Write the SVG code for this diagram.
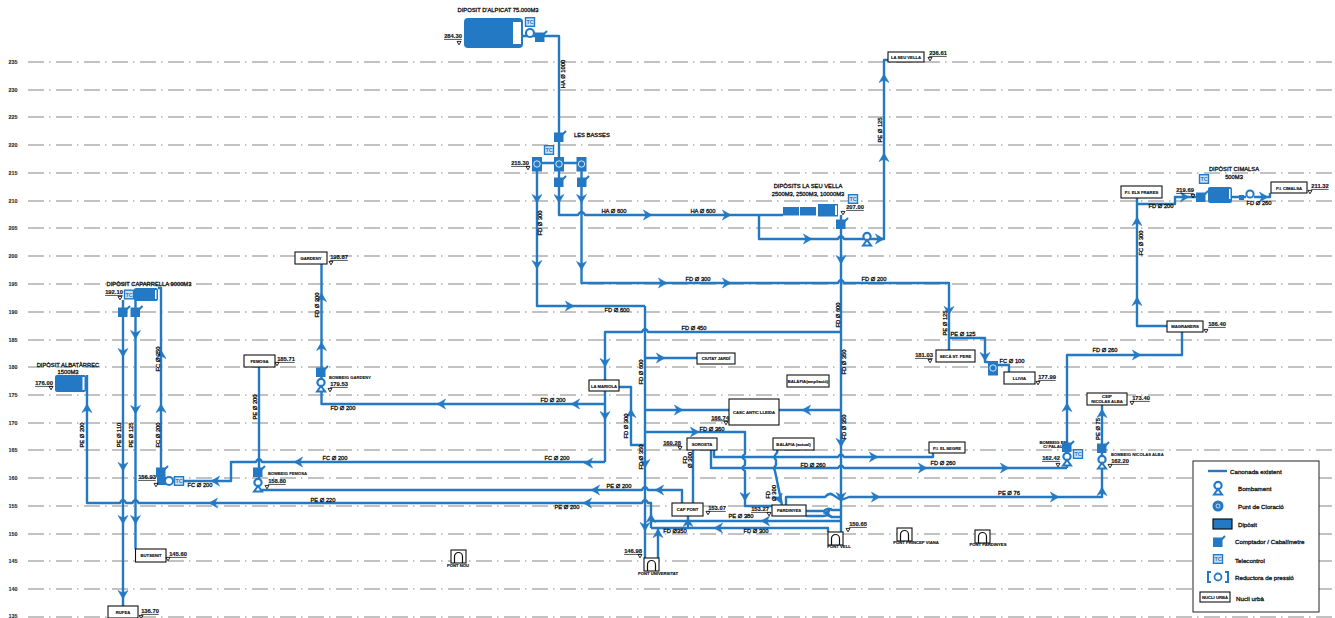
<svg xmlns="http://www.w3.org/2000/svg" width="1335" height="618" viewBox="0 0 1335 618">
<style>
text{font-family:"Liberation Sans",Arial,sans-serif;fill:#111;font-size:5.8px;stroke:#111;stroke-width:.3px}
.c{text-anchor:middle}
.s{font-size:4.2px;text-anchor:middle;font-weight:bold;stroke-width:.15px}
.u{text-decoration:underline;text-anchor:middle;font-weight:bold;stroke-width:.15px}
.g{font-size:5.4px;text-anchor:middle;font-weight:bold;fill:#333;stroke-width:.1px}
.grid line{stroke:#858585;stroke-width:1.1;stroke-dasharray:16 5 1.5 5.5}
.pipe{fill:none;stroke:#2479c4;stroke-width:2.4;stroke-linejoin:round}
.box{fill:#fff;stroke:#111;stroke-width:1.1}
.bl{fill:#2479c4}
.lg{font-size:6.2px;stroke-width:.3px}
</style>
<defs>
<path id="ar" d="M-4.6 -5 L4 0 L-4.6 5 L-2 0 Z" fill="#2479c4" stroke="#2479c4" stroke-width=".5"/>
<path id="tri" d="M-2 -1.6 H2 L0 1.8 Z" fill="none" stroke="#111" stroke-width=".9"/>
<g id="m"><rect x="-5" y="-4.5" width="9.500" height="9.500" fill="#2479c4"/><path d="M0 1 L7 -6" stroke="#2479c4" stroke-width="2"/></g>
<g id="p"><circle cx="0" cy="-2.5" r="3.6" fill="#fff" stroke="#2479c4" stroke-width="2.2"/><path d="M-4 6.500 L0 1 L4 6.500 Z" fill="#fff" stroke="#2479c4" stroke-width="2"/></g>
<g id="cl"><rect x="-5" y="-7" width="10" height="14.500" fill="#2479c4"/><circle r="3.2" fill="none" stroke="#fff" stroke-width=".8"/></g>
<g id="tc"><rect x="-5.2" y="-5" width="10.4" height="10" fill="#2479c4"/><rect x="-3.8" y="-3.6" width="7.6" height="7.2" fill="#cfe2f5"/><text x="0" y="2" text-anchor="middle" style="font-size:5.4px;font-weight:bold;fill:#2479c4;stroke:none">TC</text></g>
<g id="port"><rect x="0" y="0" width="15" height="13" fill="#fff" stroke="#111" stroke-width="1.1"/><path d="M3.5 13 V6.5 A4 4 0 0 1 11.5 6.5 V13" fill="none" stroke="#111" stroke-width="1.2"/></g>
</defs>

<g id="grid" class="grid">
<line x1="28" y1="62" x2="1335" y2="62"/><line x1="28" y1="90" x2="1335" y2="90"/><line x1="28" y1="117" x2="1335" y2="117"/><line x1="28" y1="145" x2="1335" y2="145"/><line x1="28" y1="173" x2="1335" y2="173"/><line x1="28" y1="201" x2="1335" y2="201"/><line x1="28" y1="228" x2="1335" y2="228"/><line x1="28" y1="256" x2="1335" y2="256"/><line x1="28" y1="284" x2="1335" y2="284"/><line x1="28" y1="312" x2="1335" y2="312"/><line x1="28" y1="340" x2="1335" y2="340"/><line x1="28" y1="367" x2="1335" y2="367"/><line x1="28" y1="395" x2="1335" y2="395"/><line x1="28" y1="423" x2="1335" y2="423"/><line x1="28" y1="450" x2="1335" y2="450"/><line x1="28" y1="478" x2="1335" y2="478"/><line x1="28" y1="506" x2="1335" y2="506"/><line x1="28" y1="534" x2="1335" y2="534"/><line x1="28" y1="561" x2="1335" y2="561"/><line x1="28" y1="589" x2="1335" y2="589"/><line x1="28" y1="617" x2="1335" y2="617"/>
<text class="g" x="13" y="64">235</text><text class="g" x="13" y="92">230</text><text class="g" x="13" y="119">225</text><text class="g" x="13" y="147">220</text><text class="g" x="13" y="175">215</text><text class="g" x="13" y="203">210</text><text class="g" x="13" y="230">205</text><text class="g" x="13" y="258">200</text><text class="g" x="13" y="286">195</text><text class="g" x="13" y="314">190</text><text class="g" x="13" y="342">185</text><text class="g" x="13" y="369">180</text><text class="g" x="13" y="397">175</text><text class="g" x="13" y="425">170</text><text class="g" x="13" y="452">165</text><text class="g" x="13" y="480">160</text><text class="g" x="13" y="508">155</text><text class="g" x="13" y="536">150</text><text class="g" x="13" y="563">145</text><text class="g" x="13" y="591">140</text><text class="g" x="13" y="618">135</text>
</g>

<g id="connectors">
<path class="pipe" d="M522 36 H559 V136 M559 141 V163 M537 163 H581 M559 171 V215 H578 q3.5 -6 7 0 H783"/>
<path class="pipe" d="M581.5 171 V283 H838 q3 -6 6 0 H949 V350"/>
<path class="pipe" d="M537 171 V306 H645 M645 306 V558"/>
<path class="pipe" d="M841 332 H648 q-3 -6 -6 0 H605 V380 M605 391 V462 M605 462 H262 q-3 -6 -6 0 H231 V481 H184"/>
<path class="pipe" d="M605 404 H321.5 V264 M619 387 H631 V445 H645"/>
<path class="pipe" d="M645 358 H697 M645 410 H729 M645 432 H745 V454 q-5 3 0 6 V465 q-5 3 0 6 V506 H772"/>
<path class="pipe" d="M711 450 V468 H838 q3 -5 6 0 H1067 M714 450 V457 H838 q3 -5 6 0 H933 V453"/>
<path class="pipe" d="M777 450 q1 2 -1 4 q-3 3 0 6 V465 q-3 3 -1 6 L782 505"/>
<path class="pipe" d="M841 215 V532 M759 214 V239 H838 q3 -6 6 0 H884 V60 H888 M841 410 H779"/>
<path class="pipe" d="M786 505 V497 H825 q4 -5 8 -2 l8 5 l8 -3 H1102 V405"/>
<path class="pipe" d="M806 511 H824 q4 -4 8 -1 H841 M806 516 H824 q4 -2 8 1 H841 M651 521 H841 M828 532 V528 H651"/>
<path class="pipe" d="M87 375 V503 H120 q3 -6 6 0 H132.500 q3 -6 6 0 H642 q3 -6 6 0 H651 V528"/>
<path class="pipe" d="M688 515 V528 M658 558 V528 M682 503 V490 H648 q-3 -6 -6 0 H258 M693 450 V503"/>
<path class="pipe" d="M158 288 H161 V476 M123 300 V606 M135.500 300 V549 M259 367 V490"/>
<path class="pipe" d="M949 338 H985 V362 H988 M998 365 H1009 V372 M1067 468 V355 H1182 V332 M1167 326 H1137 V198 M1137 204 H1175 V197 H1198 M1232 197 H1246 M1254 197 H1270 V193"/>
<use href="#ar" transform="translate(559 199) rotate(90)"/><use href="#ar" transform="translate(581.500 199) rotate(90)"/><use href="#ar" transform="translate(581.500 266) rotate(90)"/><use href="#ar" transform="translate(537 199) rotate(90)"/><use href="#ar" transform="translate(537 265) rotate(90)"/>
<use href="#ar" transform="translate(648 215)"/><use href="#ar" transform="translate(727 215)"/><use href="#ar" transform="translate(663 283)"/><use href="#ar" transform="translate(727 283)"/><use href="#ar" transform="translate(570 306)"/>
<use href="#ar" transform="translate(605 363) rotate(90)"/><use href="#ar" transform="translate(605 416) rotate(90)"/><use href="#ar" transform="translate(588 463) rotate(180)"/><use href="#ar" transform="translate(575 404) rotate(180)"/><use href="#ar" transform="translate(441 404) rotate(180)"/>
<use href="#ar" transform="translate(321.500 346) rotate(-90)"/><use href="#ar" transform="translate(321.500 297) rotate(-90)"/><use href="#ar" transform="translate(631 413) rotate(-90)"/><use href="#ar" transform="translate(645 464) rotate(90)"/><use href="#ar" transform="translate(645 527) rotate(90)"/>
<use href="#ar" transform="translate(661 358)"/><use href="#ar" transform="translate(679 410)"/><use href="#ar" transform="translate(695 432)"/><use href="#ar" transform="translate(745 497) rotate(90)"/><use href="#ar" transform="translate(806 410) rotate(180)"/>
<use href="#ar" transform="translate(874 457)"/><use href="#ar" transform="translate(923 468)"/><use href="#ar" transform="translate(1005 468)"/><use href="#ar" transform="translate(876 497)"/><use href="#ar" transform="translate(1055 497)"/><use href="#ar" transform="translate(1102 491) rotate(-90)"/><use href="#ar" transform="translate(1102 413) rotate(-90)"/><use href="#ar" transform="translate(1067 407) rotate(-90)"/>
<use href="#ar" transform="translate(779 499) rotate(70)"/><use href="#ar" transform="translate(841 260) rotate(90)"/><use href="#ar" transform="translate(841 443) rotate(90)"/><use href="#ar" transform="translate(841 497) rotate(90)"/><use href="#ar" transform="translate(808 239)"/><use href="#ar" transform="translate(880 239)"/><use href="#ar" transform="translate(884 78) rotate(-90)"/><use href="#ar" transform="translate(884 157) rotate(-90)"/>
<use href="#ar" transform="translate(827 513) rotate(180)"/><use href="#ar" transform="translate(765 521) rotate(180)"/><use href="#ar" transform="translate(718 528) rotate(180)"/><use href="#ar" transform="translate(651 518) rotate(-90)"/><use href="#ar" transform="translate(658 533) rotate(-90)"/><use href="#ar" transform="translate(688 522) rotate(-90)"/>
<use href="#ar" transform="translate(659 490) rotate(180)"/><use href="#ar" transform="translate(595 490) rotate(180)"/><use href="#ar" transform="translate(587 503) rotate(180)"/><use href="#ar" transform="translate(213 503) rotate(180)"/><use href="#ar" transform="translate(298 462) rotate(180)"/><use href="#ar" transform="translate(215 481) rotate(180)"/>
<use href="#ar" transform="translate(87 408) rotate(-90)"/><use href="#ar" transform="translate(161 354) rotate(-90)"/><use href="#ar" transform="translate(161 408) rotate(-90)"/>
<use href="#ar" transform="translate(123 353) rotate(90)"/><use href="#ar" transform="translate(123 467) rotate(90)"/><use href="#ar" transform="translate(123 520) rotate(90)"/><use href="#ar" transform="translate(123 595) rotate(90)"/><use href="#ar" transform="translate(135.500 335) rotate(90)"/><use href="#ar" transform="translate(135.500 410) rotate(90)"/><use href="#ar" transform="translate(135.500 520) rotate(90)"/>
<use href="#ar" transform="translate(949 311) rotate(90)"/><use href="#ar" transform="translate(985 357) rotate(90)"/><use href="#ar" transform="translate(1137 355)"/><use href="#ar" transform="translate(1137 301) rotate(-90)"/><use href="#ar" transform="translate(1137 221) rotate(-90)"/><use href="#ar" transform="translate(1185 197)"/><use href="#ar" transform="translate(1264 197)"/>

<text class="c" x="614" y="213">HA Ø 600</text><text class="c" x="703" y="213">HA Ø 600</text><text class="c" x="698" y="281">FD Ø 300</text><text class="c" x="874" y="281">FD Ø 200</text><text class="c" x="617" y="312">FD Ø 600</text><text class="c" x="694" y="330">FD Ø 450</text><text class="c" x="553" y="402">FD Ø 200</text><text class="c" x="343" y="410">FD Ø 200</text><text class="c" x="712" y="431">FD Ø 360</text>
<text class="c" x="813" y="467">FD Ø 260</text><text class="c" x="943" y="465">FD Ø 260</text><text class="c" x="1009" y="495">PE Ø 76</text><text class="c" x="756" y="533">FD Ø 300</text><text class="c" x="675" y="533">FD Ø350</text><text class="c" x="741" y="518">PE Ø 380</text><text class="c" x="619" y="488">PE Ø 200</text><text class="c" x="567" y="509">PE Ø 200</text><text class="c" x="323" y="502">PE Ø 220</text><text class="c" x="335" y="460">FC Ø 200</text><text class="c" x="557" y="460">FC Ø 200</text><text class="c" x="200" y="487">FC Ø 200</text><text class="c" x="963" y="336">PE Ø 125</text><text class="c" x="1012" y="363">FC Ø 100</text><text class="c" x="1105" y="352">FD Ø 260</text><text class="c" x="1161" y="208">FD Ø 200</text><text class="c" x="1259" y="205">FD Ø 260</text>
<text class="c" transform="translate(565 74) rotate(-90)">HA Ø 1000</text><text class="c" transform="translate(542 223) rotate(-90)">FD Ø 300</text><text class="c" transform="translate(319 305) rotate(-90)">FD Ø 200</text><text class="c" transform="translate(628 426) rotate(-90)">FD Ø 300</text><text class="c" transform="translate(643 372) rotate(-90)">FD Ø 600</text><text class="c" transform="translate(643 457) rotate(-90)">FD Ø 350</text><text class="c" transform="translate(882 130) rotate(-90)">PE Ø 125</text><text class="c" transform="translate(840 315) rotate(-90)">FD Ø 600</text><text class="c" transform="translate(846 362) rotate(-90)">FD Ø 350</text><text class="c" transform="translate(846 427) rotate(-90)">FD Ø 350</text><text class="c" transform="translate(947 323) rotate(-90)">PE Ø 125</text><text class="c" transform="translate(1143 243) rotate(-90)">FC Ø 300</text><text class="c" transform="translate(1100 429) rotate(-90)">PE Ø 75</text><text class="c" transform="translate(160 359) rotate(-90)">FC Ø 250</text><text class="c" transform="translate(160 435) rotate(-90)">FC Ø 200</text><text class="c" transform="translate(84 435) rotate(-90)">PE Ø 200</text><text class="c" transform="translate(121 435) rotate(-90)">PE Ø 110</text><text class="c" transform="translate(133 435) rotate(-90)">PE Ø 125</text><text class="c" transform="translate(257 407) rotate(-90)">PE Ø 200</text>
<text class="c" transform="translate(687 460) rotate(-90)">FD</text><text class="c" transform="translate(692 460) rotate(-90)">Ø 300</text><text class="c" transform="translate(770 495) rotate(-90)">FD</text><text class="c" transform="translate(776 493) rotate(-90)">Ø 300</text>
</g>

<g id="dep-alpicat"><text class="c" x="498" y="12">DIPOSIT D'ALPICAT 75.000M3</text><rect class="bl" x="464" y="18" width="59" height="30" rx="4"/><rect x="513" y="22" width="8" height="22" fill="#fff"/><use href="#tc" x="530" y="22"/><circle cx="530" cy="33" r="4" fill="#fff" stroke="#2479c4" stroke-width="2.2"/><use href="#m" x="540" y="37"/><text class="u" x="453" y="38">284.30</text><use href="#tri" x="459" y="43"/></g>
<g id="les-basses"><use href="#m" x="559" y="137"/><use href="#tc" x="549" y="150"/><use href="#cl" x="537" y="164"/><use href="#cl" x="559" y="164"/><use href="#cl" x="581.500" y="164"/><use href="#m" x="559" y="182"/><use href="#m" x="582" y="182"/><text x="574" y="137">LES BASSES</text><text class="u" x="520" y="165">215.30</text><use href="#tri" x="528" y="168"/></g>
<g id="dep-seu-vella"><text class="c" x="808" y="188">DIPÒSITS LA SEU VELLA</text><text class="c" x="808" y="196">2500M3, 2500M3, 10000M3</text><rect class="bl" x="783" y="207" width="16" height="8.500"/><rect class="bl" x="800" y="207" width="16" height="8.500"/><rect class="bl" x="818" y="204" width="20" height="12.500"/><rect x="835" y="205.500" width="2" height="9.500" fill="#fff"/><use href="#tc" x="853" y="199"/><use href="#m" x="841" y="224"/><use href="#tri" x="843" y="213"/><text class="u" x="855" y="209">207.00</text></g>
<g id="bomb-seu-vella"><use href="#p" x="867" y="239"/></g>
<g id="la-seu-vella"><rect class="box" x="888" y="52" width="36" height="10"/><text class="s" x="906" y="58.500">LA SEU VELLA</text><text class="u" x="938" y="55">236.61</text><use href="#tri" x="930" y="59"/></g>
<g id="gardeny"><rect class="box" x="295" y="252" width="32" height="12"/><text class="s" x="311" y="259.500">GARDENY</text><text class="u" x="339" y="259">198.87</text><use href="#tri" x="331" y="263"/></g>
<g id="bomb-gardeny"><use href="#m" x="321" y="372"/><use href="#p" x="321" y="385"/><text x="329" y="379" style="font-size:4.2px;font-weight:bold;stroke-width:.1px">BOMBEIG GARDENY</text><text class="u" x="339" y="386">179.53</text><use href="#tri" x="330" y="390"/></g>
<g id="femosa"><rect class="box" x="244" y="355" width="31" height="12"/><text class="s" x="259.500" y="362.500">FEMOSA</text><text class="u" x="286" y="361">185.71</text><use href="#tri" x="277" y="364"/></g>
<g id="bomb-femosa"><use href="#m" x="258" y="472"/><use href="#p" x="258" y="485"/><text x="268" y="475" style="font-size:4.2px;font-weight:bold;stroke-width:.1px">BOMBEIG FEMOSA</text><text class="u" x="277" y="483">158.80</text><use href="#tri" x="267" y="487"/></g>
<g id="dep-caparrella"><text class="c" x="149" y="286">DIPÒSIT CAPARRELLA 9000M3</text><rect class="bl" x="134" y="288" width="24" height="13" rx="2"/><rect x="155" y="290" width="1.500" height="9" fill="#fff"/><use href="#tc" x="129" y="294.500"/><text class="u" x="114" y="294">192.10</text><use href="#tri" x="120" y="298"/><use href="#m" x="123" y="312"/><use href="#m" x="135.500" y="312"/></g>
<g id="dep-albatarrec"><text class="c" x="68" y="367">DIPÒSIT ALBATÀRREC</text><text class="c" x="68" y="373.500">1500M3</text><rect class="bl" x="55" y="375" width="31" height="17" rx="2"/><rect x="82.500" y="377" width="2" height="13" fill="#fff"/><text class="u" x="44" y="385">176.00</text><use href="#tri" x="51" y="388"/></g>
<g id="bomb-caparrella"><use href="#m" x="161" y="472"/><rect class="bl" x="157" y="477" width="11" height="8"/><circle cx="169" cy="481" r="4" fill="#fff" stroke="#2479c4" stroke-width="2"/><use href="#tc" x="179" y="481"/><text class="u" x="147" y="479">156.93</text><use href="#tri" x="156" y="485"/></g>
<g id="butsenit"><rect class="box" x="135.500" y="549" width="30.500" height="13"/><text class="s" x="151" y="557">BUTSENIT</text><text class="u" x="178" y="556">145.60</text><use href="#tri" x="168" y="559"/></g>
<g id="rufea"><rect class="box" x="108" y="606" width="30" height="12"/><text class="s" x="123" y="614">RUFEA</text><text class="u" x="150" y="613">136.70</text><use href="#tri" x="141" y="617"/></g>
<g id="pont-nou"><use href="#port" x="451" y="550"/><text class="s" x="458" y="567">PONT NOU</text></g>
<g id="la-mariola"><rect class="box" x="589" y="380" width="30" height="11"/><text class="s" x="604" y="387.500">LA MARIOLA</text></g>
<g id="ciutat-jardi"><rect class="box" x="697" y="353" width="38" height="11"/><text class="s" x="716" y="360">CIUTAT JARDÍ</text></g>
<g id="casc-antic"><rect class="box" x="729" y="399" width="50" height="26"/><text class="s" x="754" y="413.500">CASC ANTIC LLEIDA</text><text class="u" x="720" y="419.500">166.74</text><use href="#tri" x="726" y="423"/></g>
<g id="balafia-amp"><rect class="box" x="787" y="375" width="42" height="12"/><text class="s" x="808" y="382.500">BALÀFIA(ampliació)</text></g>
<g id="balafia"><rect class="box" x="773" y="438" width="41" height="12"/><text class="s" x="793.500" y="445.500">BALÀFIA (actual)</text></g>
<g id="soroeta"><rect class="box" x="687" y="438" width="30" height="12"/><text class="s" x="702" y="445.500">SOROETA</text><text class="u" x="672" y="444.500">160.28</text><use href="#tri" x="680" y="448"/></g>
<g id="cap-pont"><rect class="box" x="672" y="503" width="31" height="13"/><text class="s" x="687.500" y="511">CAP PONT</text><text class="u" x="717" y="510">153.07</text><use href="#tri" x="708" y="513"/></g>
<g id="pardinyes"><rect class="box" x="772" y="505" width="34" height="11"/><text class="s" x="789" y="512">PARDINYES</text><text class="u" x="760" y="511">153.27</text><use href="#tri" x="769" y="514"/></g>
<g id="pont-vell"><use href="#port" x="828" y="532"/><text class="s" x="839" y="548">PONT VELL</text><text class="u" x="858" y="526">150.65</text><use href="#tri" x="848" y="530"/></g>
<g id="pont-universitat"><use href="#port" x="644" y="558"/><text class="s" x="658" y="575">PONT UNIVERSITAT</text><text class="u" x="633" y="553">146.98</text><use href="#tri" x="640" y="556"/></g>
<g id="pont-princep"><use href="#port" x="897" y="528"/><text class="s" x="916" y="543.500">PONT PRINCEP VIANA</text></g>
<g id="pont-pardinyes"><use href="#port" x="975" y="530"/><text class="s" x="988" y="545.500">PONT PARDINYES</text></g>
<g id="pi-segre"><rect class="box" x="929" y="442" width="36" height="11"/><text class="s" x="947" y="449.500">P.I. EL SEGRE</text></g>
<g id="seca"><rect class="box" x="936" y="350" width="39" height="12"/><text class="s" x="955.500" y="357.500">SECÀ ST. PERE</text><text class="u" x="924" y="357">181.03</text><use href="#tri" x="930" y="361"/></g>
<g id="clor-seca"><use href="#cl" x="993" y="368"/></g>
<g id="llivia"><rect class="box" x="1004" y="372" width="31" height="12"/><text class="s" x="1019.500" y="379.500">LLIVIA</text><text class="u" x="1047" y="379">177.99</text><use href="#tri" x="1038" y="383"/></g>
<g id="bomb-palau"><text class="s" x="1053" y="444">BOMBEIG EN</text><text class="s" x="1053" y="448">C/ PALAU</text><use href="#m" x="1067" y="447"/><use href="#p" x="1067" y="459"/><use href="#tc" x="1078" y="454"/><text class="u" x="1051" y="460">162.42</text><use href="#tri" x="1058" y="465"/></g>
<g id="bomb-alba"><use href="#m" x="1102" y="448"/><use href="#p" x="1102" y="462"/><text x="1111" y="456" style="font-size:4.2px;font-weight:bold;stroke-width:.1px">BOMBEIG NICOLAS ALBA</text><text class="u" x="1120" y="463">162.20</text><use href="#tri" x="1110" y="466"/></g>
<g id="ceip-alba"><rect class="box" x="1087" y="393" width="40" height="12"/><text class="s" x="1107" y="398">CEIP</text><text class="s" x="1107" y="403">NICOLAS ALBA</text><text class="u" x="1141" y="400">173.40</text><use href="#tri" x="1132" y="403"/></g>
<g id="magraners"><rect class="box" x="1167" y="321" width="36" height="11"/><text class="s" x="1185" y="328">MAGRANERS</text><text class="u" x="1217" y="326">186.40</text><use href="#tri" x="1206" y="331"/></g>
<g id="pi-frares"><rect class="box" x="1121" y="186" width="41" height="12"/><text class="s" x="1141.500" y="193.500">P.I. ELS FRARES</text></g>
<g id="dep-cimalsa"><text class="c" x="1234" y="171">DIPÒSIT CIMALSA</text><text class="c" x="1234" y="179">500M3</text><rect class="bl" x="1208" y="187" width="24" height="16" rx="2"/><rect x="1229" y="189" width="1.500" height="10" fill="#fff"/><use href="#tc" x="1204" y="179"/><use href="#m" x="1201" y="197"/><rect class="bl" x="1239" y="195" width="5" height="5"/><circle cx="1250" cy="194" r="3.600" fill="#fff" stroke="#2479c4" stroke-width="2"/><text class="u" x="1185" y="192">219.69</text><use href="#tri" x="1193" y="196"/></g>
<g id="pi-cimalsa"><rect class="box" x="1271" y="182" width="36" height="11"/><text class="s" x="1289" y="189.500">P.I. CIMALSA</text><text class="u" x="1320" y="188">211.32</text><use href="#tri" x="1310" y="192"/></g>

<g id="legend">
<rect x="1193" y="461" width="126" height="151" fill="#fff" stroke="#222" stroke-width="1"/>
<path class="pipe" d="M1208 471 H1227"/>
<use href="#p" x="1218" y="488"/>
<circle cx="1218" cy="506" r="5.500" fill="#2479c4"/><circle cx="1218" cy="506" r="2" fill="none" stroke="#fff" stroke-width=".7"/>
<rect x="1213" y="519" width="19" height="10" fill="#2479c4" stroke="#111" stroke-width="1.200"/>
<use href="#m" x="1218" y="542"/>
<use href="#tc" x="1218" y="559"/>
<path d="M1211 572 H1208 V582 H1211 M1225 572 H1228 V582 H1225" fill="none" stroke="#2479c4" stroke-width="2"/><circle cx="1218" cy="577" r="3.500" fill="none" stroke="#2479c4" stroke-width="1.800"/>
<rect x="1200" y="592" width="30" height="10" class="box"/><text class="s" x="1215" y="599">NUCLI URBÀ</text>
<text class="lg" x="1230" y="474">Canonada existent</text><text class="lg" x="1238" y="491">Bombament</text><text class="lg" x="1238" y="509">Punt de Cloració</text><text class="lg" x="1238" y="527">Dipòsit</text><text class="lg" x="1235" y="544">Comptador / Cabalímetre</text><text class="lg" x="1235" y="563">Telecontrol</text><text class="lg" x="1235" y="580">Reductora de pressió</text><text class="lg" x="1236" y="601">Nucli urbà</text>
</g>
</svg>
